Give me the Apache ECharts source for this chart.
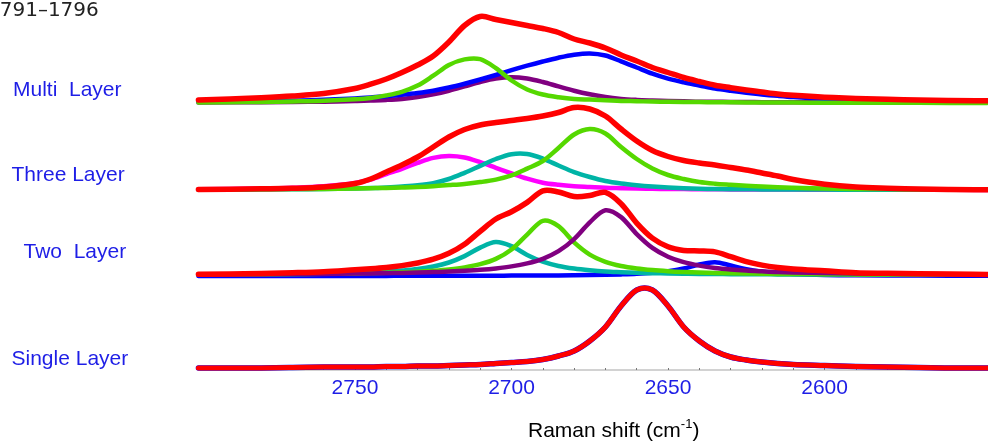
<!DOCTYPE html>
<html>
<head>
<meta charset="utf-8">
<script src="https://cdn.jsdelivr.net/npm/echarts@6/dist/echarts.min.js"></script>
<style>
  html, body { margin: 0; padding: 0; background: #ffffff; }
  #chart { width: 988px; height: 442px; }
</style>
</head>
<body>
<div id="chart"></div>
<script>
// Raman shift grid (cm^-1)
const shift = [2800, 2790, 2780, 2770, 2760, 2750, 2745, 2740, 2735, 2730, 2725, 2720, 2715, 2710, 2705, 2700, 2695, 2690, 2685, 2680, 2675, 2670, 2665, 2660, 2655, 2650, 2645, 2640, 2635, 2630, 2625, 2620, 2615, 2610, 2600, 2590, 2580, 2570, 2560, 2548];

const tickLabels = [2750, 2700, 2650, 2600];
const tickMarks = [2790, 2780, 2770, 2760, 2750, 2740, 2730, 2720, 2710, 2700, 2690, 2680, 2670, 2660, 2650, 2640, 2630, 2620, 2610, 2600, 2590, 2580, 2570, 2560, 2550];

const layerNames = ['Multi  Layer', 'Three Layer', 'Two  Layer', 'Single Layer'];

// Single layer (offset intensity)
const singleLayer = [2, 2, 2, 2.5, 3, 3, 3, 3.5, 3.5, 4, 4, 4.5, 5, 5.5, 6.5, 7.5, 8.5, 10.5, 14, 19, 29, 43, 64, 80, 80, 64, 43, 29, 19, 13, 10, 8, 6.5, 5.5, 4.5, 3.5, 3, 2.5, 2, 2];

// Two layer
const twoSum = [95.8, 96.1, 96.6, 97.3, 98.3, 100.3, 101.3, 102.6, 104.4, 107, 110.8, 116.7, 125.8, 138.7, 151, 158.2, 167.6, 179.2, 178, 173.5, 174.5, 177.6, 166.3, 146.9, 131.9, 123.3, 119.6, 119.1, 118.1, 113.4, 108.4, 104.9, 102.6, 101.1, 99.2, 97.3, 96.7, 96.2, 95.9, 95.6];
const twoTeal = [95.5, 95.6, 95.8, 96.1, 96.5, 97.2, 97.7, 98.4, 99.5, 101, 103.5, 107.5, 113.9, 122.4, 128, 123.8, 115.1, 108.3, 104, 101.4, 99.7, 98.5, 97.8, 97.2, 96.8, 96.5, 96.3, 96.1, 96, 95.8, 95.7, 95.7, 95.6, 95.5, 95.4, 95.4, 95.3, 95.3, 95.2, 95.2];
const twoGreen = [95.5, 95.6, 95.7, 95.9, 96.2, 96.6, 96.9, 97.2, 97.7, 98.3, 99.3, 100.6, 102.6, 105.8, 111.1, 120.5, 135.4, 149.2, 143.9, 127.6, 115.4, 108.2, 104, 101.5, 99.9, 98.8, 98, 97.4, 97, 96.7, 96.5, 96.3, 96.1, 96, 95.8, 95.6, 95.5, 95.4, 95.4, 95.3];
const twoPurple = [95.5, 95.6, 95.8, 95.9, 96.1, 96.4, 96.6, 96.8, 97.1, 97.4, 97.9, 98.4, 99.2, 100.2, 101.6, 103.6, 106.6, 111.2, 118.8, 130.9, 147.7, 159.7, 152.9, 135.9, 122.1, 113.3, 107.8, 104.4, 102.1, 100.6, 99.5, 98.7, 98, 97.6, 96.9, 96.5, 96.2, 95.9, 95.8, 95.6];
const twoBlue = [94.1, 94.1, 94.1, 94.1, 94.1, 94.1, 94.1, 94.1, 94.2, 94.2, 94.2, 94.2, 94.2, 94.3, 94.3, 94.4, 94.4, 94.5, 94.6, 94.8, 94.9, 95.2, 95.6, 96.2, 97.2, 98.8, 101.5, 105.5, 107.8, 104.5, 100.7, 98.3, 96.9, 96, 95.1, 94.7, 94.5, 94.4, 94.3, 94.2];

// Three layer
const threeSum = [180.5, 180.8, 181.2, 181.7, 183, 186.5, 191, 198, 205, 213, 223, 233, 240.5, 245, 247.5, 249.5, 251.5, 254, 257.5, 262.5, 261, 254, 241, 229, 219.5, 213.5, 209.5, 207, 205, 202.5, 200, 197, 194, 190.5, 185.8, 183, 181.8, 181, 180.5, 180.2];
const threeMagenta = [180.7, 181, 181.4, 182.2, 183.7, 187, 190.5, 195.9, 201.2, 207.1, 212.1, 214, 212.5, 207.8, 202.2, 196.6, 191.3, 187.3, 185.2, 183.8, 183, 182.2, 181.8, 181.4, 181.2, 181, 180.9, 180.8, 180.7, 180.6, 180.5, 180.5, 180.4, 180.4, 180.3, 180.3, 180.2, 180.2, 180.2, 180.1];
const threeTeal = [180.3, 180.3, 180.4, 180.7, 181, 181.5, 181.9, 182.6, 183.5, 184.7, 186.9, 191, 197.2, 204.1, 211, 215.8, 216, 211.4, 204.5, 197.9, 193, 189, 186.5, 184.8, 183.5, 182.5, 181.8, 181.3, 181, 180.8, 180.7, 180.6, 180.5, 180.5, 180.4, 180.3, 180.3, 180.2, 180.2, 180.2];
const threeGreen = [180.5, 180.6, 180.7, 180.9, 181.1, 181.5, 181.8, 182.1, 182.5, 183, 183.8, 184.9, 186.1, 187.9, 190.4, 194.6, 201.4, 209, 222, 235.5, 241, 236.5, 223, 211, 201.5, 195, 191, 188, 186.3, 185.2, 184.2, 183.4, 182.8, 182.3, 181.5, 181.1, 180.9, 180.7, 180.6, 180.5];

// Multi layer
const multiSum = [270, 271, 272.3, 274, 276.5, 281.5, 285.8, 291, 297.5, 305, 314, 328, 344.5, 353.5, 350.5, 347.5, 344.5, 341.5, 337.5, 331, 327, 322, 315, 309, 302.5, 297.5, 292.5, 288.5, 284.8, 282.3, 280, 278, 276, 274.7, 272.8, 271.5, 270.7, 270.1, 269.6, 269.2];
const multiGreen = [267.6, 267.8, 268.1, 268.6, 269.3, 270.8, 272.1, 274.6, 278.2, 284.4, 294.3, 305, 310.6, 310.8, 301.9, 289.5, 280.5, 275.5, 272.8, 271, 270.4, 269.8, 269.1, 268.8, 268.4, 268.2, 268, 267.9, 267.8, 267.7, 267.6, 267.5, 267.5, 267.4, 267.3, 267.3, 267.2, 267.2, 267.1, 267.1];
const multiPurple = [267.6, 267.7, 267.8, 268.1, 268.3, 269, 269.5, 270.1, 271.1, 272.9, 275.7, 279.3, 283.6, 288, 291.5, 292.8, 291.5, 288, 283.6, 279.3, 275.7, 272.9, 271.1, 270.1, 269.5, 269, 268.7, 268.3, 268.2, 268.1, 268, 267.8, 267.8, 267.7, 267.6, 267.5, 267.5, 267.4, 267.4, 267.4];
const multiBlue = [268.2, 268.5, 268.8, 269.3, 270.2, 271.5, 272.5, 273.7, 275.2, 277, 279.3, 282.5, 286.3, 290.5, 295, 299.8, 304.3, 308.5, 312.3, 315.3, 316.6, 314.5, 308.7, 302.5, 296.3, 291.3, 287.6, 284.5, 281.4, 279.2, 277.3, 275.6, 274.2, 273, 271.2, 269.7, 268.8, 268.3, 267.9, 267.7];

const RED = '#ff0000', BLUE = '#0000ff', GREEN = '#55d800', PURPLE = '#800080', TEAL = '#00b4a6', MAGENTA = '#ff00ff';
const TXT = '#1e1ee6';
const FONT = '"Liberation Sans", Arial, sans-serif';

// Smooth cubic (Hermite) path through points mapped by the axis scales
function curvePath(pts) {
  const n = pts.length;
  const m = pts.map((p, i) => {
    const a = pts[Math.max(0, i - 1)], b = pts[Math.min(n - 1, i + 1)];
    return (b[1] - a[1]) / (b[0] - a[0]);
  });
  let d = 'M' + pts[0][0].toFixed(2) + ' ' + pts[0][1].toFixed(2);
  for (let i = 0; i < n - 1; i++) {
    const p = pts[i], q = pts[i + 1], h = (q[0] - p[0]) / 3;
    d += ' C' + (p[0] + h).toFixed(2) + ' ' + (p[1] + m[i] * h).toFixed(2) + ' ' +
      (q[0] - h).toFixed(2) + ' ' + (q[1] - m[i + 1] * h).toFixed(2) + ' ' +
      q[0].toFixed(2) + ' ' + q[1].toFixed(2);
  }
  return d;
}

function line(name, ys, color, width) {
  return {
    name: name, type: 'custom', coordinateSystem: 'cartesian2d', silent: true,
    data: [[2700, ys[15]]],
    renderItem: function (params, api) {
      const pts = shift.map((x, i) => api.coord([x, ys[i]]));
      return {
        type: 'path',
        shape: { pathData: curvePath(pts) },
        style: { fill: 'none', stroke: color, lineWidth: width, lineCap: 'round', lineJoin: 'round' }
      };
    }
  };
}

const chart = echarts.init(document.getElementById('chart'), null, { renderer: 'canvas' });
const labelY = [90.5, 175.5, 252.5, 359.2];
const labelX = [13, 11.5, 23.5, 11.5];

chart.setOption({
  animation: false,
  backgroundColor: '#ffffff',
  grid: { left: 200, right: 0, top: 0, bottom: 72, containLabel: false },
  xAxis: {
    type: 'value', inverse: true, min: 2547.8, max: 2799.5,
    axisLine: { show: true, lineStyle: { color: '#c4c4c4', width: 1.5 } },
    axisTick: { show: true, inside: true, length: 2, customValues: tickMarks, lineStyle: { color: '#777', width: 1 } },
    axisLabel: { show: true, customValues: tickLabels, color: TXT, fontSize: 21, fontFamily: FONT, margin: 8,
      formatter: function (v) { return String(v); } },
    splitLine: { show: false }
  },
  yAxis: { type: 'value', min: 0, max: 370, show: false },
  graphic: [
    { type: 'text', left: -13, top: 1, style: { text: '1791\u20131796', fill: '#222222', font: '20px "DejaVu Sans", sans-serif' } }
  ].concat(layerNames.map((t, i) => ({
    type: 'text', x: labelX[i], y: labelY[i],
    style: { text: t, fill: TXT, font: '21px ' + FONT, textVerticalAlign: 'middle', verticalAlign: 'middle' }
  }))).concat([
    {
      type: 'text', x: 528, y: 429.5,
      style: {
        text: '{n|Raman shift (cm}{s|-1}{n|)}', verticalAlign: 'middle', textVerticalAlign: 'middle',
        rich: {
          n: { fontSize: 21, fontFamily: FONT, color: TXT, lineHeight: 24, verticalAlign: 'bottom' },
          s: { fontSize: 13, fontFamily: FONT, color: TXT, lineHeight: 24, verticalAlign: 'top' }
        }
      }
    }
  ]),
  series: [
    line('Multi purple', multiPurple, PURPLE, 4.5),
    line('Multi blue', multiBlue, BLUE, 4.5),
    line('Multi green', multiGreen, GREEN, 4.5),
    line('Multi layer', multiSum, RED, 5.5),
    line('Three magenta', threeMagenta, MAGENTA, 4.5),
    line('Three teal', threeTeal, TEAL, 4.5),
    line('Three green', threeGreen, GREEN, 4.5),
    line('Three layer', threeSum, RED, 5.5),
    line('Two blue', twoBlue, BLUE, 4.5),
    line('Two teal', twoTeal, TEAL, 4.5),
    line('Two green', twoGreen, GREEN, 4.5),
    line('Two purple', twoPurple, PURPLE, 4.5),
    line('Two layer', twoSum, RED, 5.5),
    line('Single fit', singleLayer, BLUE, 5.5),
    line('Single layer', singleLayer, RED, 5)
  ]
});
</script>
</body>
</html>
